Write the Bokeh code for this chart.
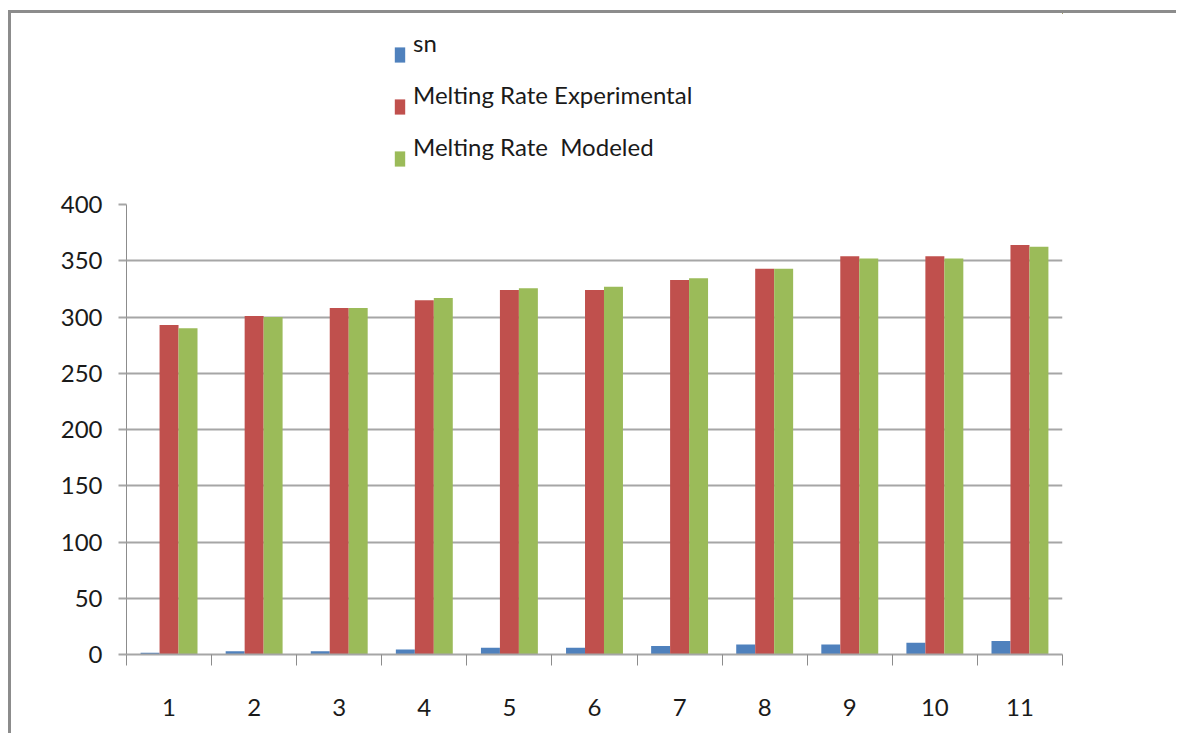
from bokeh.plotting import figure
from bokeh.layouts import column
from bokeh.models import ColumnDataSource, FixedTicker, Legend, LegendItem, Range1d
from bokeh.embed import file_html
from bokeh.resources import INLINE
from bokeh.transform import dodge

categories = [1, 2, 3, 4, 5, 6, 7, 8, 9, 10, 11]
sn = [1.5, 3, 3, 4.5, 6, 6, 7.5, 9, 9, 10.5, 12]
melting_experimental = [293, 301, 308, 315, 324, 324, 333, 343, 354, 354, 364]
melting_modeled = [290, 300, 308, 317, 325.5, 327, 334.5, 343, 352, 352, 362.5]
series_names = ["sn", "Melting Rate Experimental", "Melting Rate  Modeled"]
series_colors = ["#4F81BD", "#C0504D", "#9BBB59"]
y_ticks = [0, 50, 100, 150, 200, 250, 300, 350, 400]

FONT = "Lato"
FSIZE = "24px"
BAR_W = 0.223
W = 1165

source = ColumnDataSource(dict(x=categories, sn=sn, exp=melting_experimental, mod=melting_modeled))
series_cols = ["sn", "exp", "mod"]

# ---- main chart ----
p = figure(frame_width=936, frame_height=450,
           x_range=Range1d(0.5, 11.5), y_range=Range1d(0, 400),
           output_backend="svg", toolbar_location=None,
           min_border_left=115, min_border_top=14,
           min_border_right=W - 115 - 936, min_border_bottom=79)
p.outline_line_color = None

for col, off, color in zip(series_cols, [-BAR_W, 0, BAR_W], series_colors):
    p.vbar(x=dodge("x", off, range=p.x_range), top=col, width=BAR_W,
           source=source, fill_color=color, line_color=None)

p.xgrid.grid_line_color = None
p.ygrid.grid_line_color = "#a6a6a6"
p.ygrid.grid_line_width = 2
p.ygrid.ticker = FixedTicker(ticks=y_ticks)

ya = p.yaxis[0]
ya.ticker = FixedTicker(ticks=y_ticks)
ya.axis_line_color = "#8c8c8c"
ya.axis_line_width = 1
ya.major_tick_out = 8
ya.major_tick_in = 0
ya.major_tick_line_color = "#a6a6a6"
ya.major_tick_line_width = 2
ya.minor_tick_line_color = None
ya.major_label_standoff = 16
ya.major_label_text_font = FONT
ya.major_label_text_font_size = FSIZE
ya.major_label_text_color = "#1a1a1a"

xa = p.xaxis[0]
xa.ticker = FixedTicker(ticks=categories, minor_ticks=[c + 0.5 for c in [0] + categories])
xa.axis_line_color = "#a6a6a6"
xa.axis_line_width = 2
xa.major_tick_out = 0
xa.major_tick_in = 0
xa.major_tick_line_color = None
xa.minor_tick_out = 11
xa.minor_tick_in = 0
xa.minor_tick_line_color = "#8c8c8c"
xa.minor_tick_line_width = 1
xa.major_label_standoff = 33
xa.major_label_text_font = FONT
xa.major_label_text_font_size = FSIZE
xa.major_label_text_color = "#1a1a1a"

# ---- legend strip above the chart (its own renderers lie outside its view) ----
lg = figure(width=W, height=177, output_backend="svg", toolbar_location=None,
            x_axis_location=None, y_axis_location=None,
            x_range=Range1d(-100, -99), y_range=Range1d(-100, -99), min_border=0)
lg.outline_line_color = None
lg.grid.visible = False
swatch_renderers = [lg.vbar(x="x", top=col, width=BAR_W, source=source, fill_color=c, line_color=None)
                    for col, c in zip(series_cols, series_colors)]
label_renderers = [lg.vbar(x="x", top=col, width=BAR_W, source=source, fill_color=None, line_color=None)
                   for col in series_cols]

common = dict(orientation="vertical", spacing=2, padding=0, margin=0,
              border_line_color=None, background_fill_alpha=0,
              glyph_width=13, glyph_height=19, label_standoff=7,
              label_text_font=FONT, label_text_font_size=FSIZE,
              label_height=50, label_text_color="#1a1a1a")
swatches = Legend(items=[LegendItem(label="", renderers=[r]) for r in swatch_renderers],
                  location=(267, 7), **common)
# labels, lifted above the swatch centres as in the original
labels = Legend(items=[LegendItem(label=n, renderers=[r]) for n, r in zip(series_names, label_renderers)],
                location=(267, 19), **common)
lg.add_layout(swatches)
lg.add_layout(labels)

layout = column(lg, p, spacing=0)
layout.styles = {"border-left": "3px solid #8c8c8c", "border-top": "3px solid #8c8c8c",
                 "margin-left": "8px", "margin-top": "10px"}

open("out.html", "w").write(file_html(layout, INLINE))
